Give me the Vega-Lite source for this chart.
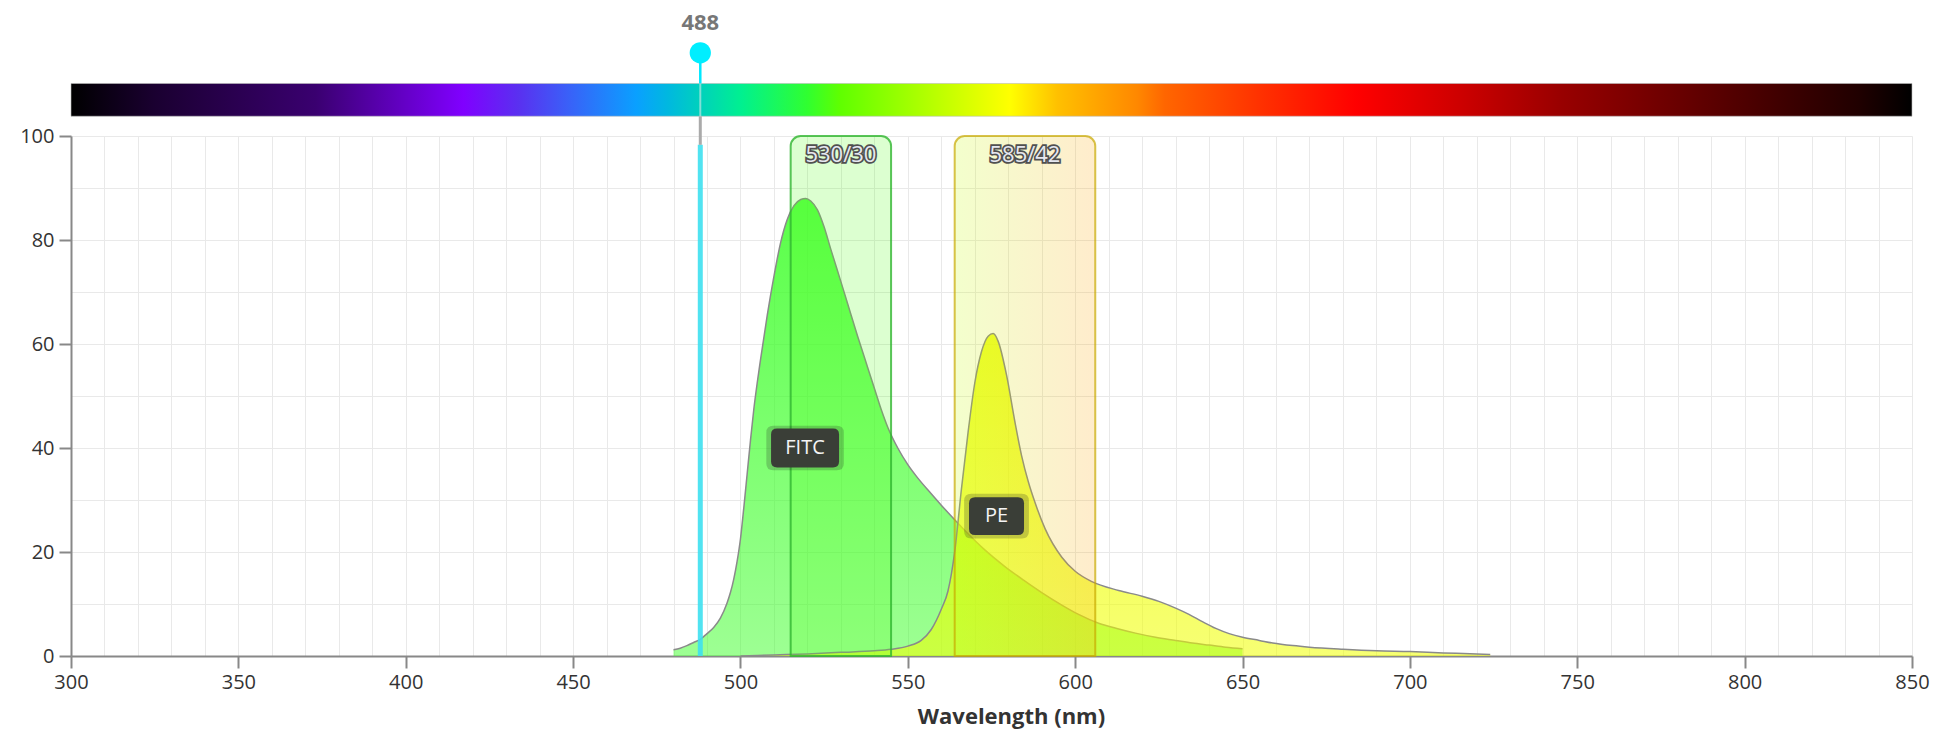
{
  "$schema": "https://vega.github.io/schema/vega-lite/v6.json",
  "width": 1841,
  "height": 520,
  "autosize": {"type": "none"},
  "padding": {"left": 71, "top": 136, "right": 25, "bottom": 78},
  "background": "white",
  "config": {"view": {"stroke": null}, "font": "Open Sans"},
  "resolve": {"axis": {"x": "independent", "y": "independent"}},
  "datasets": {
    "spectra": [
      {"dye": "FITC", "wl": 480, "v": 1.2}, {"dye": "FITC", "wl": 482, "v": 1.5}, {"dye": "FITC", "wl": 484, "v": 2.0},
      {"dye": "FITC", "wl": 486, "v": 2.6}, {"dye": "FITC", "wl": 488, "v": 3.2}, {"dye": "FITC", "wl": 490, "v": 4.3},
      {"dye": "FITC", "wl": 492, "v": 5.5}, {"dye": "FITC", "wl": 494, "v": 7.3}, {"dye": "FITC", "wl": 496, "v": 10.2},
      {"dye": "FITC", "wl": 497, "v": 12.2}, {"dye": "FITC", "wl": 498, "v": 14.8}, {"dye": "FITC", "wl": 499, "v": 18.2},
      {"dye": "FITC", "wl": 500, "v": 22.5}, {"dye": "FITC", "wl": 501, "v": 28.5}, {"dye": "FITC", "wl": 502, "v": 35},
      {"dye": "FITC", "wl": 503, "v": 41.5}, {"dye": "FITC", "wl": 504, "v": 47.5}, {"dye": "FITC", "wl": 505, "v": 52.5},
      {"dye": "FITC", "wl": 506, "v": 57}, {"dye": "FITC", "wl": 508, "v": 65.5}, {"dye": "FITC", "wl": 510, "v": 73},
      {"dye": "FITC", "wl": 512, "v": 79.5}, {"dye": "FITC", "wl": 514, "v": 84}, {"dye": "FITC", "wl": 516, "v": 86.6},
      {"dye": "FITC", "wl": 518, "v": 87.8}, {"dye": "FITC", "wl": 519.5, "v": 88}, {"dye": "FITC", "wl": 521, "v": 87.5},
      {"dye": "FITC", "wl": 523, "v": 85.8}, {"dye": "FITC", "wl": 525, "v": 82.5}, {"dye": "FITC", "wl": 527, "v": 78.2},
      {"dye": "FITC", "wl": 530, "v": 72}, {"dye": "FITC", "wl": 532, "v": 67.8}, {"dye": "FITC", "wl": 535, "v": 61.5},
      {"dye": "FITC", "wl": 538, "v": 55.5}, {"dye": "FITC", "wl": 540, "v": 51.5}, {"dye": "FITC", "wl": 542, "v": 47.5},
      {"dye": "FITC", "wl": 544, "v": 44}, {"dye": "FITC", "wl": 547, "v": 40}, {"dye": "FITC", "wl": 550, "v": 36.8},
      {"dye": "FITC", "wl": 553, "v": 34.2}, {"dye": "FITC", "wl": 557, "v": 31.2}, {"dye": "FITC", "wl": 560, "v": 29.0},
      {"dye": "FITC", "wl": 564, "v": 26.2}, {"dye": "FITC", "wl": 568, "v": 23.5}, {"dye": "FITC", "wl": 573, "v": 20.4},
      {"dye": "FITC", "wl": 579, "v": 17.2}, {"dye": "FITC", "wl": 585, "v": 14.4}, {"dye": "FITC", "wl": 590, "v": 12.2},
      {"dye": "FITC", "wl": 596, "v": 9.8}, {"dye": "FITC", "wl": 601, "v": 8}, {"dye": "FITC", "wl": 607, "v": 6.3},
      {"dye": "FITC", "wl": 613, "v": 5.2}, {"dye": "FITC", "wl": 618, "v": 4.4}, {"dye": "FITC", "wl": 624, "v": 3.6},
      {"dye": "FITC", "wl": 630, "v": 3}, {"dye": "FITC", "wl": 635, "v": 2.5}, {"dye": "FITC", "wl": 640, "v": 2.1},
      {"dye": "FITC", "wl": 645, "v": 1.7}, {"dye": "FITC", "wl": 650, "v": 1.4},
      {"dye": "PE", "wl": 500, "v": 0}, {"dye": "PE", "wl": 510, "v": 0.2}, {"dye": "PE", "wl": 520, "v": 0.4},
      {"dye": "PE", "wl": 530, "v": 0.7}, {"dye": "PE", "wl": 540, "v": 1.0}, {"dye": "PE", "wl": 545, "v": 1.3},
      {"dye": "PE", "wl": 550, "v": 1.9}, {"dye": "PE", "wl": 554, "v": 3}, {"dye": "PE", "wl": 557, "v": 5.1},
      {"dye": "PE", "wl": 560, "v": 9}, {"dye": "PE", "wl": 562, "v": 12.5}, {"dye": "PE", "wl": 564, "v": 20},
      {"dye": "PE", "wl": 566, "v": 32}, {"dye": "PE", "wl": 568, "v": 43}, {"dye": "PE", "wl": 570, "v": 52.5},
      {"dye": "PE", "wl": 572, "v": 58.5}, {"dye": "PE", "wl": 574, "v": 61.5}, {"dye": "PE", "wl": 575.5, "v": 62},
      {"dye": "PE", "wl": 577, "v": 60.5}, {"dye": "PE", "wl": 579.5, "v": 54}, {"dye": "PE", "wl": 582, "v": 45},
      {"dye": "PE", "wl": 584, "v": 38.5}, {"dye": "PE", "wl": 586, "v": 33.5}, {"dye": "PE", "wl": 588, "v": 29.5},
      {"dye": "PE", "wl": 591, "v": 24.5}, {"dye": "PE", "wl": 596, "v": 19}, {"dye": "PE", "wl": 600, "v": 16.3},
      {"dye": "PE", "wl": 605, "v": 14.3}, {"dye": "PE", "wl": 613, "v": 12.6}, {"dye": "PE", "wl": 620, "v": 11.5},
      {"dye": "PE", "wl": 625, "v": 10.5}, {"dye": "PE", "wl": 630, "v": 9.2}, {"dye": "PE", "wl": 634, "v": 8},
      {"dye": "PE", "wl": 638, "v": 6.6}, {"dye": "PE", "wl": 642, "v": 5.3}, {"dye": "PE", "wl": 646, "v": 4.3},
      {"dye": "PE", "wl": 650, "v": 3.6}, {"dye": "PE", "wl": 655, "v": 3.0}, {"dye": "PE", "wl": 659, "v": 2.5},
      {"dye": "PE", "wl": 665, "v": 2.0}, {"dye": "PE", "wl": 670, "v": 1.7}, {"dye": "PE", "wl": 680, "v": 1.3},
      {"dye": "PE", "wl": 690, "v": 1.0}, {"dye": "PE", "wl": 700, "v": 0.85}, {"dye": "PE", "wl": 710, "v": 0.6},
      {"dye": "PE", "wl": 718, "v": 0.45}, {"dye": "PE", "wl": 724, "v": 0.3}
    ],
    "filters": [
      {"name": "530/30", "lo": 515, "hi": 545, "center": 530},
      {"name": "585/42", "lo": 564, "hi": 606, "center": 585}
    ],
    "dyes": [
      {"name": "FITC", "wl": 519.3, "v": 40},
      {"name": "PE", "wl": 576.5, "v": 26.9}
    ],
    "laser": [{"wl": 488, "label": "488"}],
    "spectrum": [{"lo": 300, "hi": 850}]
  },
  "layer": [
    {
      "data": {"name": "spectra"},
      "transform": [{"filter": "datum.dye === 'FITC'"}],
      "mark": {
        "type": "area",
        "interpolate": "monotone",
        "fill": {
          "gradient": "linear", "x1": 0, "y1": 0, "x2": 0, "y2": 1,
          "stops": [
            {"offset": 0, "color": "rgba(60,255,40,0.85)"},
            {"offset": 1, "color": "rgba(60,255,40,0.5)"}
          ]
        }
      },
      "encoding": {
        "x": {
          "field": "wl", "type": "quantitative",
          "scale": {"domain": [300, 850], "nice": false},
          "axis": {
            "orient": "bottom",
            "title": "Wavelength (nm)",
            "values": [300,310,320,330,340,350,360,370,380,390,400,410,420,430,440,450,460,470,480,490,500,510,520,530,540,550,560,570,580,590,600,610,620,630,640,650,660,670,680,690,700,710,720,730,740,750,760,770,780,790,800,810,820,830,840,850],
            "tickCount": 200,
            "labelExpr": "datum.value % 50 === 0 ? datum.label : ''",
            "format": "d",
            "grid": true, "gridColor": "#e9e9e9", "gridWidth": 1,
            "domainColor": "#888888", "domainWidth": 2,
            "tickColor": "#888888", "tickWidth": 2, "tickSize": 12,
            "tickOpacity": {"condition": {"test": "datum.value % 50 === 0", "value": 1}, "value": 0},
            "labelFont": "Open Sans", "labelFontSize": 20, "labelColor": "#333333", "labelPadding": 4,
            "labelFlush": false, "labelOverlap": false, "labelBound": false,
            "titleFont": "Open Sans", "titleFontSize": 22, "titleFontWeight": "bold", "titleColor": "#333333",
            "titleX": 940, "titleY": 67, "titleBaseline": "alphabetic", "titleAlign": "center"
          }
        },
        "y": {
          "field": "v", "type": "quantitative",
          "scale": {"domain": [0, 100], "nice": false},
          "axis": {
            "orient": "left",
            "title": null,
            "values": [0,10,20,30,40,50,60,70,80,90,100],
            "tickCount": 50,
            "labelExpr": "datum.value % 20 === 0 ? datum.label : ''",
            "grid": true, "gridColor": "#e9e9e9", "gridWidth": 1,
            "domainColor": "#888888", "domainWidth": 2,
            "tickColor": "#888888", "tickWidth": 2, "tickSize": 12,
            "tickOpacity": {"condition": {"test": "datum.value % 20 === 0", "value": 1}, "value": 0},
            "labelFont": "Open Sans", "labelFontSize": 20, "labelColor": "#333333", "labelPadding": 5,
            "labelFlush": false, "labelOverlap": false, "labelBound": false
          }
        }
      }
    },
    {
      "data": {"name": "spectrum"},
      "mark": {
        "type": "rect",
        "fill": {
          "gradient": "linear", "x1": 0, "y1": 0, "x2": 1, "y2": 0,
          "stops": [
            {"offset": 0, "color": "#000000"},
            {"offset": 0.045, "color": "#1a0030"},
            {"offset": 0.133, "color": "#3a0070"},
            {"offset": 0.213, "color": "#8000ff"},
            {"offset": 0.243, "color": "#5a30f0"},
            {"offset": 0.27, "color": "#3a60f8"},
            {"offset": 0.307, "color": "#0aa0ff"},
            {"offset": 0.324, "color": "#00b8e0"},
            {"offset": 0.364, "color": "#00f090"},
            {"offset": 0.4, "color": "#30ff30"},
            {"offset": 0.418, "color": "#60ff00"},
            {"offset": 0.473, "color": "#c0ff00"},
            {"offset": 0.51, "color": "#ffff00"},
            {"offset": 0.536, "color": "#ffc000"},
            {"offset": 0.579, "color": "#ff8800"},
            {"offset": 0.594, "color": "#ff6600"},
            {"offset": 0.647, "color": "#ff3000"},
            {"offset": 0.698, "color": "#ff0000"},
            {"offset": 0.756, "color": "#cc0000"},
            {"offset": 0.809, "color": "#990000"},
            {"offset": 0.864, "color": "#700000"},
            {"offset": 0.917, "color": "#480000"},
            {"offset": 0.971, "color": "#200000"},
            {"offset": 1, "color": "#000000"}
          ]
        },
        "stroke": "#bbbbbb", "strokeWidth": 1, "strokeOpacity": 0.6
      },
      "encoding": {
        "x": {"field": "lo", "type": "quantitative", "scale": {"domain": [300, 850], "nice": false}, "axis": null},
        "x2": {"field": "hi"},
        "y": {"datum": 103.8, "type": "quantitative", "scale": {"domain": [0, 100], "nice": false}, "axis": null},
        "y2": {"datum": 110.1}
      }
    },
    {
      "data": {"name": "spectra"},
      "transform": [{"filter": "datum.dye === 'FITC'"}],
      "mark": {"type": "line", "interpolate": "monotone", "color": "#8a8a8a", "strokeWidth": 1.5},
      "encoding": {
        "x": {"field": "wl", "type": "quantitative", "scale": {"domain": [300, 850], "nice": false}, "axis": null},
        "y": {"field": "v", "type": "quantitative", "scale": {"domain": [0, 100], "nice": false}, "axis": null}
      }
    },
    {
      "data": {"name": "spectra"},
      "transform": [{"filter": "datum.dye === 'PE'"}],
      "mark": {
        "type": "area",
        "interpolate": "monotone",
        "fill": {
          "gradient": "linear", "x1": 0, "y1": 0, "x2": 0, "y2": 1,
          "stops": [
            {"offset": 0, "color": "rgba(235,255,0,0.82)"},
            {"offset": 1, "color": "rgba(240,255,0,0.55)"}
          ]
        }
      },
      "encoding": {
        "x": {"field": "wl", "type": "quantitative", "scale": {"domain": [300, 850], "nice": false}, "axis": null},
        "y": {"field": "v", "type": "quantitative", "scale": {"domain": [0, 100], "nice": false}, "axis": null}
      }
    },
    {
      "data": {"name": "spectra"},
      "transform": [{"filter": "datum.dye === 'PE'"}],
      "mark": {"type": "line", "interpolate": "monotone", "color": "#8a8a8a", "strokeWidth": 1.5},
      "encoding": {
        "x": {"field": "wl", "type": "quantitative", "scale": {"domain": [300, 850], "nice": false}, "axis": null},
        "y": {"field": "v", "type": "quantitative", "scale": {"domain": [0, 100], "nice": false}, "axis": null}
      }
    },
    {
      "data": {"name": "filters"},
      "transform": [{"filter": "datum.name === '530/30'"}],
      "mark": {
        "type": "rect",
        "fill": "rgb(80,255,20)", "fillOpacity": 0.2,
        "stroke": "#2fb52f", "strokeOpacity": 0.8, "strokeWidth": 2,
        "cornerRadiusTopLeft": 10, "cornerRadiusTopRight": 10
      },
      "encoding": {
        "x": {"field": "lo", "type": "quantitative", "scale": {"domain": [300, 850], "nice": false}, "axis": null},
        "x2": {"field": "hi"},
        "y": {"datum": 0, "type": "quantitative", "scale": {"domain": [0, 100], "nice": false}, "axis": null},
        "y2": {"datum": 100}
      }
    },
    {
      "data": {"name": "filters"},
      "transform": [{"filter": "datum.name === '585/42'"}],
      "mark": {
        "type": "rect",
        "fill": {
          "gradient": "linear", "x1": 0, "y1": 0, "x2": 1, "y2": 0,
          "stops": [
            {"offset": 0, "color": "rgb(195,255,0)"},
            {"offset": 1, "color": "rgb(255,160,0)"}
          ]
        },
        "fillOpacity": 0.2,
        "stroke": "#c8a800", "strokeOpacity": 0.7, "strokeWidth": 2,
        "cornerRadiusTopLeft": 10, "cornerRadiusTopRight": 10
      },
      "encoding": {
        "x": {"field": "lo", "type": "quantitative", "scale": {"domain": [300, 850], "nice": false}, "axis": null},
        "x2": {"field": "hi"},
        "y": {"datum": 0, "type": "quantitative", "scale": {"domain": [0, 100], "nice": false}, "axis": null},
        "y2": {"datum": 100}
      }
    },
    {
      "data": {"name": "filters"},
      "mark": {"type": "text", "font": "Open Sans", "fontSize": 22, "fill": "#505050", "stroke": "#505050", "strokeWidth": 3.5, "baseline": "middle", "align": "center"},
      "encoding": {
        "x": {"field": "center", "type": "quantitative", "scale": {"domain": [300, 850], "nice": false}, "axis": null},
        "y": {"datum": 96.3, "type": "quantitative", "scale": {"domain": [0, 100], "nice": false}, "axis": null},
        "text": {"field": "name"}
      }
    },
    {
      "data": {"name": "filters"},
      "mark": {"type": "text", "font": "Open Sans", "fontSize": 22, "fill": "#e6e8f0", "baseline": "middle", "align": "center"},
      "encoding": {
        "x": {"field": "center", "type": "quantitative", "scale": {"domain": [300, 850], "nice": false}, "axis": null},
        "y": {"datum": 96.3, "type": "quantitative", "scale": {"domain": [0, 100], "nice": false}, "axis": null},
        "text": {"field": "name"}
      }
    },
    {
      "data": {"name": "laser"},
      "mark": {"type": "rule", "color": "#3ee0f0", "strokeWidth": 5, "opacity": 0.9},
      "encoding": {
        "x": {"field": "wl", "type": "quantitative", "scale": {"domain": [300, 850], "nice": false}, "axis": null},
        "y": {"datum": 0, "type": "quantitative", "scale": {"domain": [0, 100], "nice": false}, "axis": null},
        "y2": {"datum": 98.3}
      }
    },
    {
      "data": {"name": "laser"},
      "mark": {"type": "rule", "color": "#aaaaaa", "strokeWidth": 3},
      "encoding": {
        "x": {"field": "wl", "type": "quantitative", "scale": {"domain": [300, 850], "nice": false}, "axis": null},
        "y": {"datum": 98.3, "type": "quantitative", "scale": {"domain": [0, 100], "nice": false}, "axis": null},
        "y2": {"datum": 103.8}
      }
    },
    {
      "data": {"name": "laser"},
      "mark": {"type": "rule", "color": "#d8e8e8", "strokeWidth": 2, "opacity": 0.6},
      "encoding": {
        "x": {"field": "wl", "type": "quantitative", "scale": {"domain": [300, 850], "nice": false}, "axis": null},
        "y": {"datum": 103.8, "type": "quantitative", "scale": {"domain": [0, 100], "nice": false}, "axis": null},
        "y2": {"datum": 110.1}
      }
    },
    {
      "data": {"name": "laser"},
      "mark": {"type": "rule", "color": "#00e8ff", "strokeWidth": 2.5},
      "encoding": {
        "x": {"field": "wl", "type": "quantitative", "scale": {"domain": [300, 850], "nice": false}, "axis": null},
        "y": {"datum": 110.1, "type": "quantitative", "scale": {"domain": [0, 100], "nice": false}, "axis": null},
        "y2": {"datum": 116}
      }
    },
    {
      "data": {"name": "laser"},
      "mark": {"type": "point", "shape": "circle", "filled": true, "color": "#00eeff", "opacity": 1, "size": 452},
      "encoding": {
        "x": {"field": "wl", "type": "quantitative", "scale": {"domain": [300, 850], "nice": false}, "axis": null},
        "y": {"datum": 116, "type": "quantitative", "scale": {"domain": [0, 100], "nice": false}, "axis": null}
      }
    },
    {
      "data": {"name": "laser"},
      "mark": {"type": "text", "font": "Open Sans", "fontSize": 22, "fontWeight": "bold", "color": "#777777", "baseline": "middle", "align": "center"},
      "encoding": {
        "x": {"field": "wl", "type": "quantitative", "scale": {"domain": [300, 850], "nice": false}, "axis": null},
        "y": {"datum": 121.7, "type": "quantitative", "scale": {"domain": [0, 100], "nice": false}, "axis": null},
        "text": {"field": "label"}
      }
    },
    {
      "data": {"name": "dyes"},
      "transform": [{"filter": "datum.name === 'FITC'"}],
      "mark": {"type": "point", "filled": true, "color": "#222222", "opacity": 0.22, "size": 6000,
        "shape": "M-0.82,-0.574L0.82,-0.574Q1,-0.574 1,-0.4L1,0.4Q1,0.574 0.82,0.574L-0.82,0.574Q-1,0.574 -1,0.4L-1,-0.4Q-1,-0.574 -0.82,-0.574Z"},
      "encoding": {
        "x": {"field": "wl", "type": "quantitative", "scale": {"domain": [300, 850], "nice": false}, "axis": null},
        "y": {"field": "v", "type": "quantitative", "scale": {"domain": [0, 100], "nice": false}, "axis": null}
      }
    },
    {
      "data": {"name": "dyes"},
      "transform": [{"filter": "datum.name === 'FITC'"}],
      "mark": {"type": "point", "filled": true, "color": "#3a3e37", "opacity": 1, "size": 4624,
        "shape": "M-0.82,-0.574L0.82,-0.574Q1,-0.574 1,-0.4L1,0.4Q1,0.574 0.82,0.574L-0.82,0.574Q-1,0.574 -1,0.4L-1,-0.4Q-1,-0.574 -0.82,-0.574Z"},
      "encoding": {
        "x": {"field": "wl", "type": "quantitative", "scale": {"domain": [300, 850], "nice": false}, "axis": null},
        "y": {"field": "v", "type": "quantitative", "scale": {"domain": [0, 100], "nice": false}, "axis": null}
      }
    },
    {
      "data": {"name": "dyes"},
      "transform": [{"filter": "datum.name === 'PE'"}],
      "mark": {"type": "point", "filled": true, "color": "#222222", "opacity": 0.22, "size": 4200,
        "shape": "M-0.78,-0.69L0.78,-0.69Q1,-0.69 1,-0.47L1,0.47Q1,0.69 0.78,0.69L-0.78,0.69Q-1,0.69 -1,0.47L-1,-0.47Q-1,-0.69 -0.78,-0.69Z"},
      "encoding": {
        "x": {"field": "wl", "type": "quantitative", "scale": {"domain": [300, 850], "nice": false}, "axis": null},
        "y": {"field": "v", "type": "quantitative", "scale": {"domain": [0, 100], "nice": false}, "axis": null}
      }
    },
    {
      "data": {"name": "dyes"},
      "transform": [{"filter": "datum.name === 'PE'"}],
      "mark": {"type": "point", "filled": true, "color": "#3a3e37", "opacity": 1, "size": 3025,
        "shape": "M-0.78,-0.69L0.78,-0.69Q1,-0.69 1,-0.47L1,0.47Q1,0.69 0.78,0.69L-0.78,0.69Q-1,0.69 -1,0.47L-1,-0.47Q-1,-0.69 -0.78,-0.69Z"},
      "encoding": {
        "x": {"field": "wl", "type": "quantitative", "scale": {"domain": [300, 850], "nice": false}, "axis": null},
        "y": {"field": "v", "type": "quantitative", "scale": {"domain": [0, 100], "nice": false}, "axis": null}
      }
    },
    {
      "data": {"name": "dyes"},
      "mark": {"type": "text", "font": "Open Sans", "fontSize": 20, "color": "#f4f4f4", "baseline": "middle", "align": "center"},
      "encoding": {
        "x": {"field": "wl", "type": "quantitative", "scale": {"domain": [300, 850], "nice": false}, "axis": null},
        "y": {"field": "v", "type": "quantitative", "scale": {"domain": [0, 100], "nice": false}, "axis": null},
        "text": {"field": "name"}
      }
    }
  ]
}
